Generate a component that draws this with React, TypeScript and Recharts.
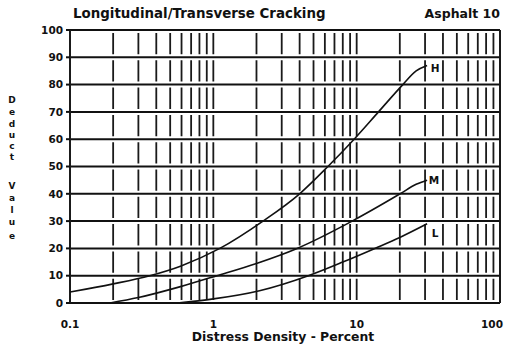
import { LineChart, Line, XAxis, YAxis, CartesianGrid, ReferenceLine } from "recharts";

// log-scale grid positions (percent)
const xTicks = [0.1, 1, 10, 100];
const xGrid = [
  0.1, 0.2, 0.3, 0.4, 0.5, 0.6, 0.7, 0.8, 0.9,
  1, 2, 3, 4, 5, 6, 7, 8, 9,
  10, 20, 30, 40, 50, 60, 70, 80, 90, 100,
];
const yTicks = [0, 10, 20, 30, 40, 50, 60, 70, 80, 90, 100];

// deduct value curves for each severity level
const highDensity = [0.1, 0.2, 0.36, 0.59, 1.11, 2.22, 4.0, 6.3, 9.6, 14.2, 21, 26, 31];
const highDeduct = [4, 7, 10, 13.5, 20, 30, 40, 50, 60, 70, 80, 85, 87];

const medDensity = [0.19, 0.3, 0.59, 1.06, 2, 3.84, 9.3, 20.1, 26, 31];
const medDeduct = [0, 2, 6, 10, 14.5, 20, 30, 40, 43.5, 45];

const lowDensity = [0.56, 1, 2.1, 4.6, 8, 13.4, 20, 31];
const lowDeduct = [0, 1.5, 4.5, 10, 15, 20, 24, 29];

const yLetters = ["D", "e", "d", "u", "c", "t", "V", "a", "l", "u", "e"];
const yLetterPos = [100, 112, 124, 135, 146, 157, 186, 198, 210, 222, 236];

const toPoints = (xs: number[], ys: number[]) => xs.map((x, i) => ({ x, y: ys[i] }));
const high = toPoints(highDensity, highDeduct);
const med = toPoints(medDensity, medDeduct);
const low = toPoints(lowDensity, lowDeduct);

const FONT = "DejaVu Sans";
const INK = "#111";

const W = 508;
const H = 344;
const TOP = 30;
const PLOT_H = 273;
const BAND = PLOT_H / 10;
const GAP = 6;

const endLabel = (text: string, count: number, dx: number, dy: number) => (props: any) => {
  if (props.index !== count - 1) return null;
  return (
    <text
      key={text}
      x={props.x + dx}
      y={props.y + dy}
      fontFamily={FONT}
      fontWeight="bold"
      fontSize={10.5}
      fill={INK}
      textAnchor="middle"
      dominantBaseline="central"
    >
      {text}
    </text>
  );
};

const DensityTick = (props: any) => {
  const { x, y, payload } = props;
  // keep the last label inside the frame
  const shift = payload.value === 100 ? -4 : 0;
  return (
    <text
      x={x + shift}
      y={y + 8}
      fontFamily={FONT}
      fontWeight="bold"
      fontSize={10.5}
      fill={INK}
      textAnchor="middle"
    >
      {String(payload.value)}
    </text>
  );
};

export default function App() {
  const tickStyle = { fontFamily: FONT, fontWeight: "bold", fontSize: 10.5, fill: INK };
  return (
    <div style={{ position: "absolute", left: 0, top: 0, width: W, height: H, background: "#fff" }}>
      <LineChart width={W} height={H} margin={{ top: TOP, right: 8, bottom: 21, left: 30 }}>
        <CartesianGrid horizontal vertical={false} stroke={INK} strokeWidth={2} />
        {xGrid.map((v) => {
          const edge = v === 0.1 || v === 100;
          return (
            <ReferenceLine
              key={v}
              x={v}
              stroke="#1a1a1a"
              strokeWidth={edge ? 2 : 1.8}
              strokeDasharray={edge ? undefined : `${BAND - GAP} ${GAP}`}
              strokeDashoffset={edge ? undefined : BAND - GAP / 2}
            />
          );
        })}
        <XAxis
          dataKey="x"
          type="number"
          scale="log"
          domain={[0.1, 100]}
          ticks={xTicks}
          allowDataOverflow
          height={20}
          axisLine={false}
          tickLine={false}
          tickMargin={11}
          tick={<DensityTick />}
        />
        <YAxis
          type="number"
          domain={[0, 100]}
          ticks={yTicks}
          width={40}
          axisLine={false}
          tickLine={{ stroke: INK, strokeWidth: 2 }}
          tickSize={4}
          tickMargin={3}
          tick={tickStyle}
        />
        <Line
          data={high}
          dataKey="y"
          type="monotone"
          stroke={INK}
          strokeWidth={1.6}
          dot={false}
          isAnimationActive={false}
          label={endLabel("H", high.length, 8, 3)}
        />
        <Line
          data={med}
          dataKey="y"
          type="monotone"
          stroke={INK}
          strokeWidth={1.6}
          dot={false}
          isAnimationActive={false}
          label={endLabel("M", med.length, 7, 0)}
        />
        <Line
          data={low}
          dataKey="y"
          type="monotone"
          stroke={INK}
          strokeWidth={1.6}
          dot={false}
          isAnimationActive={false}
          label={endLabel("L", low.length, 8, 9)}
        />
      </LineChart>
      <svg
        width={W}
        height={H}
        style={{ position: "absolute", left: 0, top: 0, pointerEvents: "none" }}
      >
        <g fontFamily={FONT} fontWeight="bold" fill={INK}>
          <text x={73} y={18} fontSize={13.4}>
            Longitudinal/Transverse Cracking
          </text>
          <text x={500} y={18} fontSize={12.5} textAnchor="end">
            Asphalt 10
          </text>
          <text x={283} y={341} fontSize={12.4} textAnchor="middle">
            Distress Density - Percent
          </text>
          {yLetters.map((ch, i) => (
            <text
              key={i}
              x={12}
              y={yLetterPos[i]}
              fontSize={9}
              textAnchor="middle"
              dominantBaseline="central"
            >
              {ch}
            </text>
          ))}
        </g>
      </svg>
    </div>
  );
}
